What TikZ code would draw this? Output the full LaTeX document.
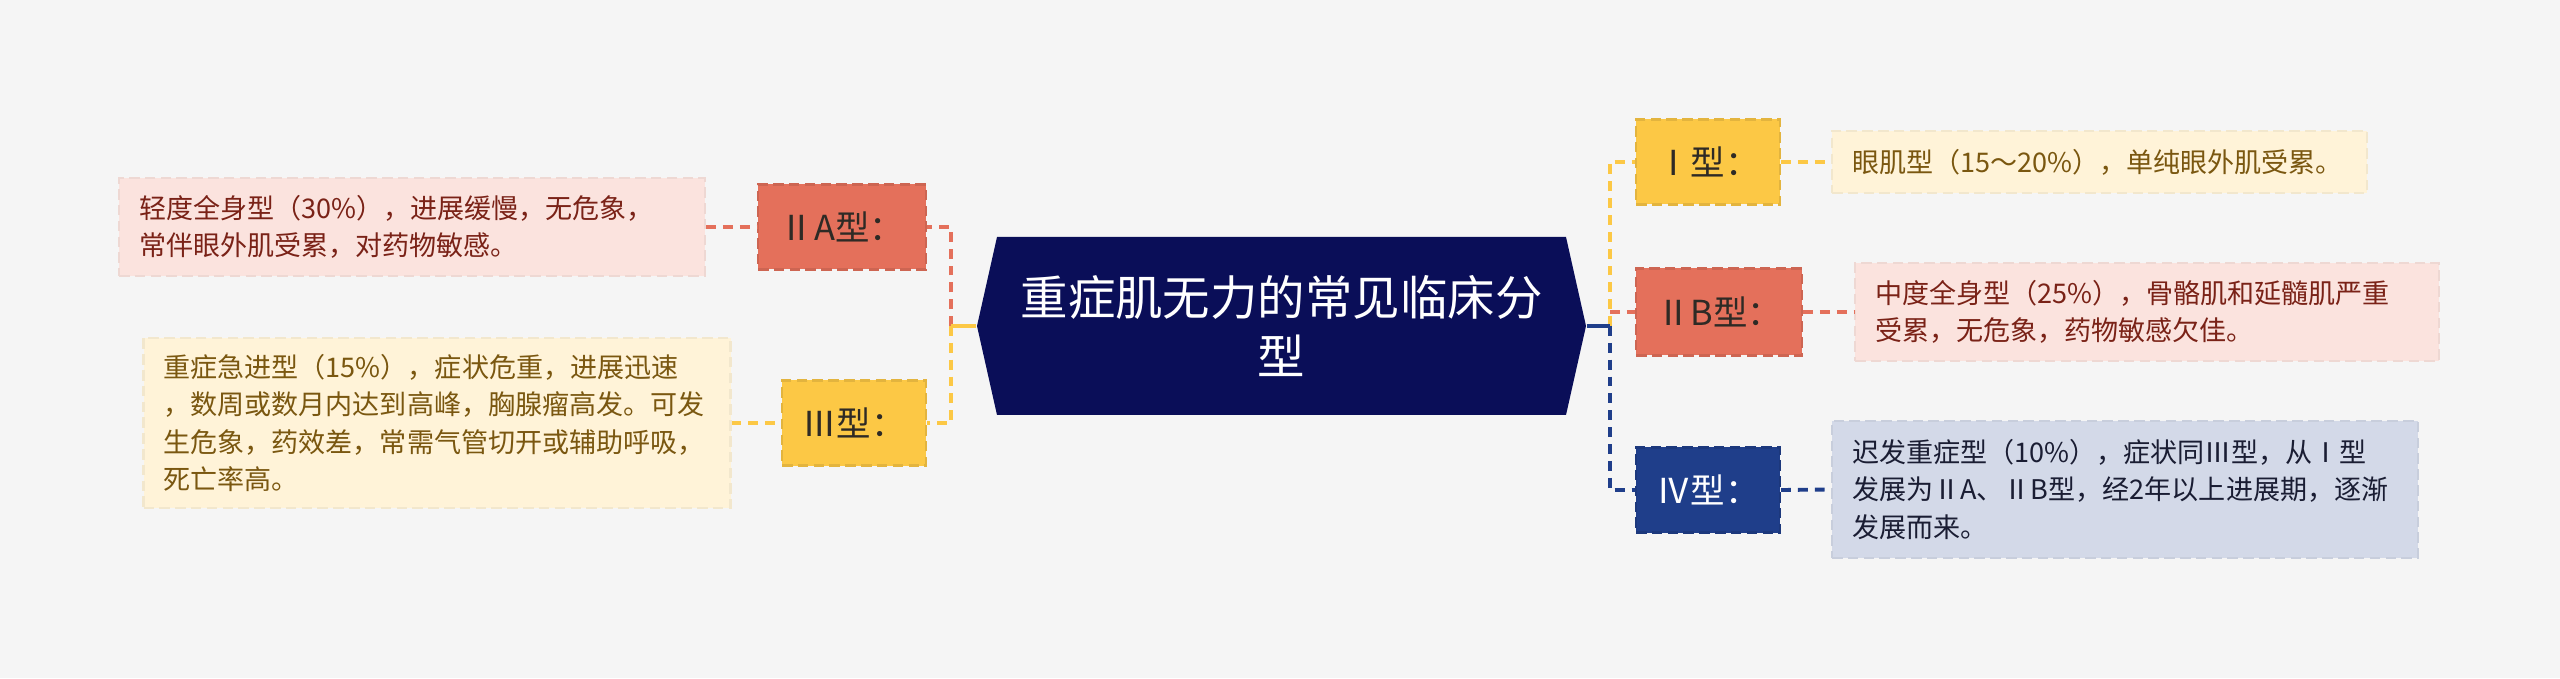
\documentclass[tikz,border=0pt]{standalone}
\usepackage{fontspec}
\usepackage{tikz}
\newfontfamily\cjk{Noto Sans CJK SC}

\definecolor{bggray}{HTML}{F5F5F5}
\definecolor{hubblue}{HTML}{0A0E58}
\definecolor{salmon}{HTML}{E4705B}
\definecolor{gold}{HTML}{FCC845}
\definecolor{ivblue}{HTML}{1F3E8A}
\definecolor{pinkbg}{HTML}{FBE3DE}
\definecolor{pinktext}{HTML}{7A2217}
\definecolor{creambg}{HTML}{FFF3D8}
\definecolor{creamtext}{HTML}{7A5710}
\definecolor{bluebg}{HTML}{D3D9E8}
\definecolor{bluetext}{HTML}{1A1D33}
\definecolor{tagtext}{HTML}{2E2A25}

\tikzset{
  typebox/.style={fill=#1, draw=#1!90!black, line width=0.6pt, dash pattern=on 3pt off 1.5pt,
    minimum height=0.85cm, inner sep=0pt, text=tagtext, font=\cjk\fontsize{9.8}{11}\selectfont},
  notebox/.style={fill=#1, draw=#1!95!black, line width=0.6pt, dash pattern=on 3pt off 1.5pt,
    inner xsep=0.2cm, inner ysep=0pt, align=left, font=\cjk\fontsize{7.7}{10.7}\selectfont},
  link/.style={draw=#1, line width=1.1pt, dash pattern=on 2.8pt off 2pt},
  stub/.style={draw=#1, line width=1.1pt}
}

\begin{document}
\begin{tikzpicture}
\path[use as bounding box, fill=bggray] (0,0) rectangle (25.6,6.78);

\fill[hubblue] (9.77,3.52) -- (9.97,4.41) -- (15.66,4.41) -- (15.86,3.52) -- (15.66,2.63) -- (9.97,2.63) -- cycle;
\node[minimum width=6.09cm, minimum height=1.78cm, inner sep=0pt, align=center, text=white,
  font=\cjk\fontsize{13.5}{16.8}\selectfont] (hub) at (12.815,3.52) {重症肌无力的常见临床分\\型};

\node[typebox=salmon, minimum width=1.68cm] (IIA) at (8.42,4.51) {ⅡA型：};
\node[typebox=gold, minimum width=1.44cm] (III) at (8.54,2.55) {Ⅲ型：};
\node[typebox=gold, minimum width=1.44cm] (I) at (17.08,5.16) {Ⅰ型：};
\node[typebox=salmon, minimum width=1.66cm, minimum height=0.87cm] (IIB) at (17.19,3.66) {ⅡB型：};
\node[typebox=ivblue, minimum width=1.44cm, text=white] (IV) at (17.08,1.88) {Ⅳ型：};

\node[notebox=pinkbg, text=pinktext, text width=5.46cm, minimum height=0.98cm] (IIAtxt) at (4.12,4.51)
  {轻度全身型（30\%），进展缓慢，无危象，\\常伴眼外肌受累，对药物敏感。};
\node[notebox=creambg, text=creamtext, text width=5.47cm, minimum height=1.70cm] (IIItxt) at (4.37,2.55)
  {重症急进型（15\%），症状危重，进展迅速\\，数周或数月内达到高峰，胸腺瘤高发。可发\\生危象，药效差，常需气管切开或辅助呼吸，\\死亡率高。};
\node[notebox=creambg, text=creamtext, text width=4.95cm, minimum height=0.62cm] (Itxt) at (20.995,5.16)
  {眼肌型（15～20\%），单纯眼外肌受累。};
\node[notebox=pinkbg, text=pinktext, text width=5.44cm, minimum height=0.98cm] (IIBtxt) at (21.47,3.66)
  {中度全身型（25\%），骨骼肌和延髓肌严重\\受累，无危象，药物敏感欠佳。};
\node[notebox=bluebg, text=bluetext, text width=5.46cm, minimum height=1.37cm] (IVtxt) at (21.25,1.885)
  {迟发重症型（10\%），症状同Ⅲ型，从Ⅰ型\\发展为ⅡA、ⅡB型，经2年以上进展期，逐渐\\发展而来。};

\coordinate (jl) at (9.51,3.52);
\coordinate (jr) at (16.10,3.52);

\draw[link=salmon] (jl) |- (IIA.east);
\draw[link=gold] (jl) |- (III.east);
\draw[stub=gold] (hub.west) -- (jl);

\draw[link=salmon] (IIB.west -| jr) -- (IIB.west);
\draw[link=gold] (jr) |- (I.west);
\draw[link=ivblue] (jr) |- (IV.west);
\draw[stub=ivblue] (hub.east) -- (jr);

\draw[link=salmon] (IIAtxt.east) -- (IIA.west);
\draw[link=gold] (IIItxt.east) -- (III.west);
\draw[link=gold] (I.east) -- (Itxt.west);
\draw[link=salmon] (IIB.east) -- (IIBtxt.west);
\draw[link=ivblue] (IV.east) -- (IVtxt.west);

\end{tikzpicture}
\end{document}
